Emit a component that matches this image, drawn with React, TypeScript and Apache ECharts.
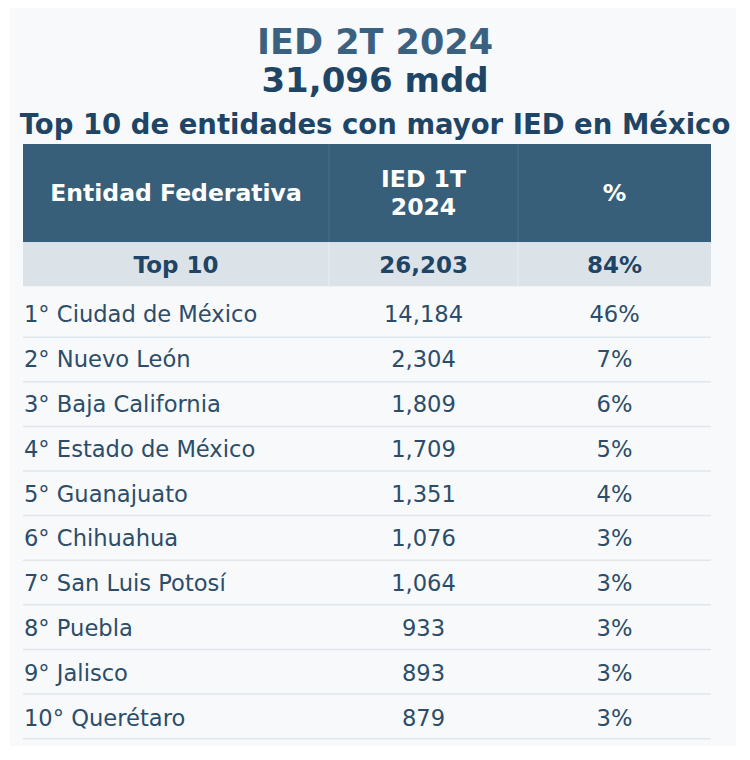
import React, { useEffect, useRef } from "react";
import * as echarts from "echarts";

const titleLines = ["IED 2T 2024", "31,096 mdd", "Top 10 de entidades con mayor IED en México"];
const headers = ["Entidad Federativa", "IED 1T\n2024", "%"];
const totalRow = ["Top 10", "26,203", "84%"];
const entidades = [
  "1° Ciudad de México",
  "2° Nuevo León",
  "3° Baja California",
  "4° Estado de México",
  "5° Guanajuato",
  "6° Chihuahua",
  "7° San Luis Potosí",
  "8° Puebla",
  "9° Jalisco",
  "10° Querétaro",
];
const iedValues = [14184, 2304, 1809, 1709, 1351, 1076, 1064, 933, 893, 879];
const pctValues = [46, 7, 6, 5, 4, 3, 3, 3, 3, 3];

const FONT = "'DejaVu Sans', sans-serif";
const colEdges = [0, 0.4448, 0.7195, 1];

function band(idx: number): [number, number] {
  if (idx === 0) return [0, 2.2];
  if (idx === 1) return [2.2, 3.19];
  const k = idx - 2;
  return [3.33 + k, 4.33 + k];
}

export default function App() {
  const ref = useRef<HTMLDivElement>(null);
  useEffect(() => {
    if (!ref.current) return;
    const chart = echarts.init(ref.current, null, { renderer: "svg" });
    const rows = [0, 1, ...entidades.map((_, i) => i + 2)].map((i) => [i]);

    const renderItem = (params: any, api: any) => {
      const idx = params.dataIndex;
      const [y0, y1] = band(idx);
      const pTop = api.coord([0, y0]);
      const pBot = api.coord([1, y1]);
      const xs = colEdges.map((c) => api.coord([c, y0])[0]);
      const top = Math.min(pTop[1], pBot[1]);
      const bot = Math.max(pTop[1], pBot[1]);
      const h = bot - top;
      const cy = (top + bot) / 2;
      const children: any[] = [];
      const centers = [(xs[0] + xs[1]) / 2, (xs[1] + xs[2]) / 2, (xs[2] + xs[3]) / 2];
      if (idx === 0 || idx === 1) {
        const isHead = idx === 0;
        children.push({
          type: "rect",
          shape: { x: xs[0], y: top, width: xs[3] - xs[0], height: h },
          style: { fill: isHead ? "#385f7a" : "#dce3e8" },
        });
        [1, 2].forEach((c) =>
          children.push({
            type: "line",
            shape: { x1: xs[c], y1: top, x2: xs[c], y2: bot },
            style: { stroke: isHead ? "#4b6f88" : "#e9eef2", lineWidth: 1 },
          })
        );
        const texts = isHead ? headers : totalRow;
        texts.forEach((t, c) =>
          children.push({
            type: "text",
            x: centers[c],
            y: isHead ? cy : cy + 1,
            style: {
              text: t,
              fill: isHead ? "#ffffff" : "#1f4566",
              font: `bold ${isHead ? 23.5 : 23}px ${FONT}`,
              align: "center",
              verticalAlign: "middle",
              lineHeight: 28,
            },
          })
        );
      } else {
        const k = idx - 2;
        children.push({
          type: "line",
          shape: { x1: xs[0], y1: bot, x2: xs[3], y2: bot },
          style: { stroke: "#dfe6ec", lineWidth: 1.5 },
        });
        const texts = [
          entidades[k],
          iedValues[k].toLocaleString("en-US"),
          pctValues[k] + "%",
        ];
        texts.forEach((t, c) =>
          children.push({
            type: "text",
            x: c === 0 ? xs[0] + 1 : centers[c],
            y: cy - 1 + k * 0.3,
            style: {
              text: t,
              fill: "#2b4d69",
              font: `22.6px ${FONT}`,
              align: c === 0 ? "left" : "center",
              verticalAlign: "middle",
            },
          })
        );
      }
      return { type: "group", children };
    };

    chart.setOption({
      animation: false,
      backgroundColor: "#ffffff",
      graphic: [
        {
          type: "rect",
          z: -10,
          silent: true,
          shape: { x: 10, y: 8, width: 726, height: 738 },
          style: { fill: "#f8f9fb" },
        },
      ],
      title: [
        {
          text: titleLines[0],
          left: "center",
          top: 19,
          textStyle: { fontFamily: FONT, fontSize: 35, fontWeight: "bold", color: "#3b6180" },
        },
        {
          text: titleLines[1],
          left: "center",
          top: 58,
          textStyle: { fontFamily: FONT, fontSize: 34, fontWeight: "bold", color: "#1f4566" },
        },
        {
          text: titleLines[2],
          left: "center",
          top: 105,
          textStyle: { fontFamily: FONT, fontSize: 27.5, fontWeight: "bold", color: "#1f4566" },
        },
      ],
      grid: { left: 23, right: 39, top: 144, bottom: 20 },
      xAxis: { type: "value", min: 0, max: 1, show: false },
      yAxis: { type: "value", min: 0, max: 13.36, inverse: true, show: false },
      series: [
        {
          type: "custom",
          renderItem,
          data: rows,
          encode: { y: 0 },
          clip: false,
        },
      ],
    });
    return () => chart.dispose();
  }, []);
  return (
    <div
      ref={ref}
      style={{ position: "absolute", left: 0, top: 0, width: 750, height: 760 }}
    />
  );
}
